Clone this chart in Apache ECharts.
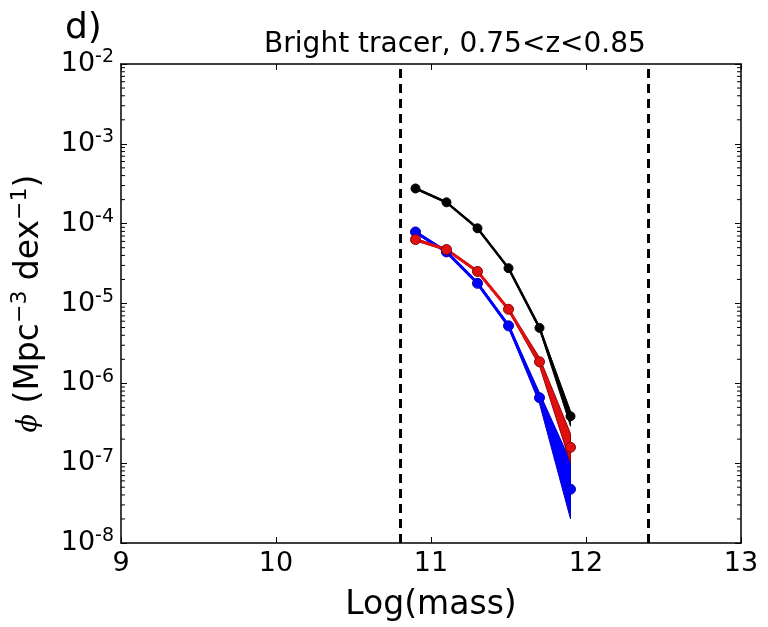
<!DOCTYPE html>
<html>
<head>
<meta charset="utf-8">
<script src="https://cdn.jsdelivr.net/npm/echarts@6/dist/echarts.min.js"></script>
<style>
  html, body { margin: 0; padding: 0; background: #fff; }
  #chart { width: 768px; height: 627px; }
</style>
</head>
<body>
<div id="chart"></div>
<script>
// log(mass) bins
const mass = [10.9, 11.1, 11.3, 11.5, 11.7, 11.9];

// black: all
const blackPhi = [2.76e-4, 1.85e-4, 8.75e-5, 2.77e-5, 4.95e-6, 3.87e-7];
const blackLo  = [2.70e-4, 1.81e-4, 8.55e-5, 2.70e-5, 4.75e-6, 2.90e-7];
const blackHi  = [2.82e-4, 1.89e-4, 8.95e-5, 2.84e-5, 5.15e-6, 4.50e-7];

// blue
const bluePhi = [7.87e-5, 4.43e-5, 1.79e-5, 5.25e-6, 6.6e-7, 4.72e-8];
const blueLo  = [7.60e-5, 4.30e-5, 1.72e-5, 5.00e-6, 5.6e-7, 2.0e-8];
const blueHi  = [8.10e-5, 4.60e-5, 1.86e-5, 5.50e-6, 7.6e-7, 1.05e-7];

// red
const redPhi = [6.32e-5, 4.74e-5, 2.52e-5, 8.47e-6, 1.86e-6, 1.58e-7];
const redLo  = [6.10e-5, 4.60e-5, 2.45e-5, 8.10e-6, 1.65e-6, 1.0e-7];
const redHi  = [6.50e-5, 4.90e-5, 2.60e-5, 8.80e-6, 2.10e-6, 2.35e-7];

// mass limits (dashed lines)
const limits = [10.8, 12.4];

// decades of the y axis and minor tick multipliers
const decades = [-8, -7, -6, -5, -4, -3];
const minorMult = [2, 3, 4, 5, 6, 7, 8, 9];

const FONT = 'DejaVu Sans';

function pairs(xs, ys) {
  return xs.map((x, i) => [x, ys[i]]);
}

function band(name, lo, hi, fill, edge) {
  return {
    name: name,
    type: 'custom',
    silent: true,
    clip: true,
    data: [[mass[0], hi[0]]],
    renderItem: function (params, api) {
      const pts = [];
      for (let i = 0; i < mass.length; i++) pts.push(api.coord([mass[i], hi[i]]));
      for (let i = mass.length - 1; i >= 0; i--) pts.push(api.coord([mass[i], lo[i]]));
      return {
        type: 'polygon',
        shape: { points: pts },
        style: { fill: fill, stroke: edge, lineWidth: 1 }
      };
    }
  };
}

function line(name, ys, color, width, size, border) {
  return {
    name: name,
    type: 'line',
    data: pairs(mass, ys),
    symbol: 'circle',
    symbolSize: size,
    lineStyle: { color: color, width: width },
    itemStyle: { color: color, borderColor: border, borderWidth: 1 },
    z: 3
  };
}

// log-spaced minor ticks on the left and right frame
const minorVals = [];
decades.forEach(d => minorMult.forEach(m => minorVals.push(m * Math.pow(10, d))));

const minorTicks = {
  name: 'minorTicks',
  type: 'custom',
  silent: true,
  clip: false,
  data: [[9, 1e-8]],
  renderItem: function (params, api) {
    const kids = [];
    minorVals.forEach(v => {
      const l = api.coord([9, v]);
      const r = api.coord([13, v]);
      kids.push({ type: 'line', shape: { x1: l[0], y1: l[1], x2: l[0] + 4, y2: l[1] },
        style: { stroke: '#000', lineWidth: 1 } });
      kids.push({ type: 'line', shape: { x1: r[0], y1: r[1], x2: r[0] - 4, y2: r[1] },
        style: { stroke: '#000', lineWidth: 1 } });
    });
    return { type: 'group', children: kids };
  },
  z: 5
};

const supLabel = function (v) {
  const e = Math.round(Math.log10(v));
  return '{b|10}{s|' + e + '}';
};

const chart = echarts.init(document.getElementById('chart'));

chart.setOption({
  animation: false,
  title: [
    {
      text: 'd)', left: 60, top: 6,
      textStyle: { fontFamily: FONT, fontSize: 36, fontWeight: 'normal', color: '#000' }
    },
    {
      text: 'Bright tracer, 0.75<z<0.85', left: 450, top: 26, textAlign: 'center',
      textStyle: { fontFamily: FONT, fontSize: 28, fontWeight: 'normal', color: '#000' }
    }
  ],
  grid: { left: 121, right: 27, top: 64, bottom: 83 },
  xAxis: [
    {
      type: 'value', min: 9, max: 13, interval: 1,
      name: 'Log(mass)', nameLocation: 'middle', nameGap: 46,
      nameTextStyle: { fontFamily: FONT, fontSize: 33, color: '#000' },
      axisLine: { show: true, onZero: false, lineStyle: { color: '#000', width: 1.5 } },
      axisTick: { inside: true, length: 6, lineStyle: { color: '#000' } },
      axisLabel: { fontFamily: FONT, fontSize: 27, color: '#000', margin: 7 },
      splitLine: { show: false }
    },
    {
      type: 'value', min: 9, max: 13, interval: 1, position: 'top',
      axisLine: { show: true, onZero: false, lineStyle: { color: '#000', width: 1.5 } },
      axisTick: { inside: true, length: 6, lineStyle: { color: '#000' } },
      axisLabel: { show: false },
      splitLine: { show: false }
    }
  ],
  yAxis: [
    {
      type: 'log', min: 1e-8, max: 1e-2, logBase: 10,
      name: '{p|ϕ} (Mpc{s|−3} dex{s|−1})',
      nameLocation: 'middle', nameGap: 72, nameRotate: 90,
      nameTextStyle: {
        fontFamily: FONT, fontSize: 33, color: '#000',
        rich: {
          p: { fontFamily: 'DejaVu Serif', fontStyle: 'italic', fontSize: 27, color: '#000' },
          s: { fontFamily: FONT, fontSize: 22, color: '#000', verticalAlign: 'top', lineHeight: 40 }
        }
      },
      axisLine: { show: true, onZero: false, lineStyle: { color: '#000', width: 1.5 } },
      axisTick: { inside: true, length: 6, lineStyle: { color: '#000' } },
      axisLabel: {
        formatter: supLabel, margin: 7,
        rich: {
          b: { fontFamily: FONT, fontSize: 27, color: '#000', lineHeight: 32 },
          s: { fontFamily: FONT, fontSize: 19, color: '#000', verticalAlign: 'top', lineHeight: 32 }
        }
      },
      splitLine: { show: false }
    },
    {
      type: 'log', min: 1e-8, max: 1e-2, logBase: 10, position: 'right',
      axisLine: { show: true, onZero: false, lineStyle: { color: '#000', width: 1.5 } },
      axisTick: { inside: true, length: 6, lineStyle: { color: '#000' } },
      axisLabel: { show: false },
      splitLine: { show: false }
    }
  ],
  series: [
    band('blueBand', blueLo, blueHi, '#0000ff', '#0000cc'),
    line('blue', bluePhi, '#0000ff', 3, 10, '#0000aa'),
    band('redBand', redLo, redHi, '#e01010', '#990000'),
    line('red', redPhi, '#e01010', 3, 10, '#880000'),
    band('blackBand', blackLo, blackHi, '#000000', '#000000'),
    line('black', blackPhi, '#000000', 2.5, 9, '#000000'),
    minorTicks,
    {
      name: 'limits',
      type: 'line',
      data: [],
      markLine: {
        silent: true,
        symbol: 'none',
        label: { show: false },
        lineStyle: { color: '#000', type: [9, 6], width: 3 },
        data: limits.map(v => ({ xAxis: v }))
      }
    }
  ]
});
</script>
</body>
</html>
